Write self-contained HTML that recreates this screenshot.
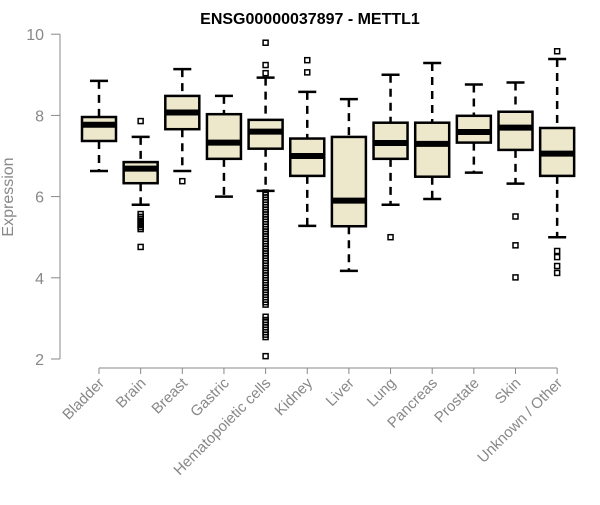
<!DOCTYPE html>
<html><head><meta charset="utf-8"><style>
body{margin:0;background:#fff}
svg text{font-family:"Liberation Sans",Arial,sans-serif}
</style></head><body>
<svg id="chart" width="600" height="500"></svg>
<script>
const categories=["Bladder","Brain","Breast","Gastric","Hematopoietic cells","Kidney","Liver","Lung","Pancreas","Prostate","Skin","Unknown / Other"];
const whiskerLow=[6.63,5.80,6.63,6.00,6.14,5.28,4.17,5.80,5.94,6.59,6.32,5.00];
const q1=[7.37,6.33,7.66,6.93,7.18,6.51,5.27,6.93,6.49,7.33,7.15,6.51];
const medians=[7.77,6.69,8.07,7.33,7.60,7.00,5.90,7.32,7.30,7.59,7.70,7.06];
const q3=[7.96,6.85,8.48,8.03,7.89,7.43,7.47,7.82,7.82,7.99,8.09,7.69];
const whiskerHigh=[8.85,7.47,9.14,8.48,8.93,8.58,8.40,9.00,9.29,8.76,8.81,9.39];
const outliers=[
 [],
 [7.86,5.57,5.50,5.45,5.40,5.35,5.30,5.25,5.20,4.76],
 [6.38],
 [],
 [9.79,9.24,9.04,6.10,6.04,5.98,5.92,5.86,5.80,5.74,5.68,5.62,5.56,5.50,5.44,5.38,5.32,5.26,5.20,5.14,5.08,5.02,4.96,4.90,4.84,4.78,4.72,4.66,4.60,4.54,4.48,4.42,4.36,4.30,4.24,4.18,4.12,4.06,4.00,3.94,3.88,3.82,3.76,3.70,3.64,3.58,3.52,3.46,3.40,3.34,3.04,2.96,2.90,2.84,2.78,2.72,2.66,2.60,2.54,2.07],
 [9.36,9.06],
 [],
 [5.00],
 [],
 [],
 [5.51,4.80,4.01],
 [9.58,4.66,4.51,4.29,4.12]
];
const yTicks=[2,4,6,8,10];

const NS="http://www.w3.org/2000/svg";
const svg=document.getElementById('chart');
const x=i=>99+i*41.65;
const y=v=>359-(v-2)*40.6;
function el(t,a,p){const e=document.createElementNS(NS,t);for(const k in a)e.setAttribute(k,a[k]);(p||svg).appendChild(e);return e;}

const title=el('text',{x:310,y:24,'text-anchor':'middle','font-size':16,'font-weight':'bold',fill:'#000'});


title.textContent='ENSG00000037897 - METTL1';

const yl=el('text',{x:0,y:0,transform:'translate(13,197) rotate(-90)','text-anchor':'middle','font-size':16,fill:'#888'});


yl.textContent='Expression';

const yAxis=el('g',{});


el('line',{x1:60,x2:60,y1:y(10),y2:y(2),stroke:'#888','stroke-width':1},yAxis);
yTicks.forEach(t=>{
 el('line',{x1:51,x2:60,y1:y(t),y2:y(t),stroke:'#888'},yAxis);
 const tx=el('text',{x:44,y:y(t)+6,'text-anchor':'end','font-size':16,fill:'#888'},yAxis);
 
 
 tx.textContent=t;
});

const xAxis=el('g',{});


el('line',{x1:x(0),x2:x(11),y1:368,y2:368,stroke:'#888'},xAxis);
categories.forEach((c,i)=>{
 el('line',{x1:x(i),x2:x(i),y1:368,y2:374,stroke:'#888'},xAxis);
 const tx=el('text',{x:0,y:0,transform:`translate(${x(i)+6},384) rotate(-45)`,'text-anchor':'end','font-size':15,fill:'#888'},xAxis);
 
 
 tx.textContent=c;
});

categories.forEach((c,i)=>{
 const g=el('g',{});
 
 
 const cx=x(i);
 el('line',{x1:cx,x2:cx,y1:y(whiskerHigh[i]),y2:y(q3[i]),stroke:'#000','stroke-width':2.5,'stroke-dasharray':'8,6'},g);
 el('line',{x1:cx,x2:cx,y1:y(q1[i]),y2:y(whiskerLow[i]),stroke:'#000','stroke-width':2.5,'stroke-dasharray':'8,6'},g);
 el('line',{x1:cx-9,x2:cx+9,y1:y(whiskerHigh[i]),y2:y(whiskerHigh[i]),stroke:'#000','stroke-width':2.5},g);
 el('line',{x1:cx-9,x2:cx+9,y1:y(whiskerLow[i]),y2:y(whiskerLow[i]),stroke:'#000','stroke-width':2.5},g);
 el('rect',{x:cx-17,y:y(q3[i]),width:34,height:y(q1[i])-y(q3[i]),fill:'#ede7cc',stroke:'#000','stroke-width':2.5},g);
 el('line',{x1:cx-17,x2:cx+17,y1:y(medians[i]),y2:y(medians[i]),stroke:'#000','stroke-width':6},g);
 outliers[i].forEach(v=>{
  const o=el('rect',{x:cx-2.5,y:y(v)-2.5,width:5,height:5,fill:'none',stroke:'#000','stroke-width':1.5},g);
  
  
 });
});
</script>
</body></html>
